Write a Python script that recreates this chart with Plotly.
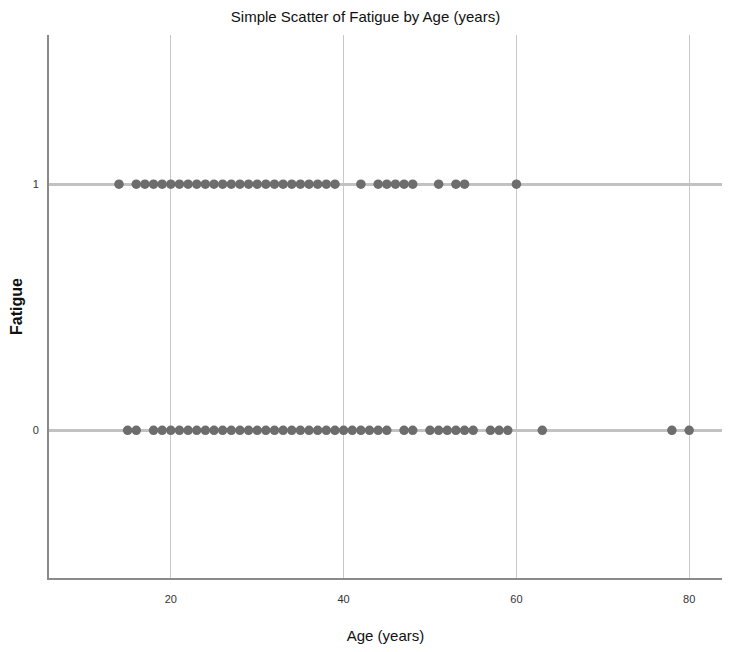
import plotly.graph_objects as go

age_fatigue1 = [14] + list(range(16, 40)) + [42, 44, 45, 46, 47, 48, 51, 53, 54, 60]
age_fatigue0 = [15, 16] + list(range(18, 46)) + [47, 48, 50, 51, 52, 53, 54, 55, 57, 58, 59, 63, 78, 80]
fatigue1 = [1] * len(age_fatigue1)
fatigue0 = [0] * len(age_fatigue0)

ages = age_fatigue1 + age_fatigue0
fatigue = fatigue1 + fatigue0

x_ticks = [20, 40, 60, 80]
y_ticks = [0, 1]

narrow = "Liberation Sans Narrow, Arial Narrow, Liberation Sans, Arial, sans-serif"

fig = go.Figure()
fig.add_trace(go.Scatter(
    x=ages, y=fatigue, mode="markers",
    marker=dict(color="#6d6d6d", size=9.5, line=dict(width=0)),
    showlegend=False, hoverinfo="x+y",
))

fig.update_layout(
    width=731, height=652,
    margin=dict(l=49, r=9, t=35, b=74),
    paper_bgcolor="white", plot_bgcolor="white",
    title=dict(text="Simple Scatter of Fatigue by Age (years)", x=0.5, xanchor="center",
               y=1 - 17 / 652, yanchor="middle",
               font=dict(family=narrow, size=15, color="#111111")),
    xaxis=dict(
        range=[5.9, 83.8], tickvals=x_ticks, ticktext=[str(v) for v in x_ticks],
        showgrid=True, gridcolor="#c8c8c8", gridwidth=1,
        zeroline=False, showline=True, linecolor="#8a8a8a", linewidth=2,
        ticks="", ticklabelstandoff=10,
        tickfont=dict(family=narrow, size=11, color="#333333"),
        title=dict(text="Age (years)", standoff=26,
                   font=dict(family=narrow, size=15, color="#111111")),
    ),
    yaxis=dict(
        range=[-0.6, 1.606], tickvals=y_ticks, ticktext=[str(v) for v in y_ticks],
        showgrid=True, gridcolor="#c2c2c2", gridwidth=2.5,
        zeroline=False, showline=True, linecolor="#8a8a8a", linewidth=2,
        ticks="", ticklabelstandoff=6,
        tickfont=dict(family=narrow, size=11, color="#333333"),
        title=dict(text="<b>Fatigue</b>", standoff=6,
                   font=dict(family="Liberation Sans, Arial, sans-serif", size=16, color="#111111")),
    ),
)

fig.write_html("out.html")
